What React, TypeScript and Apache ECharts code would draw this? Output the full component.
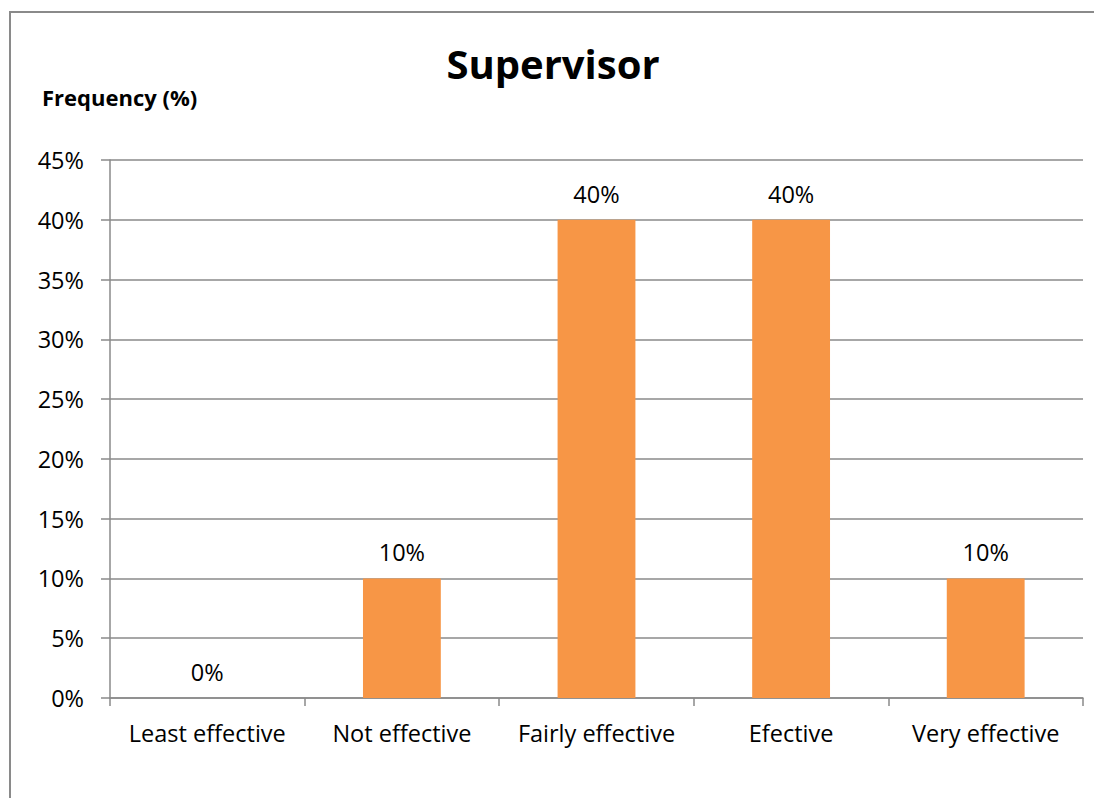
import React, { useEffect, useRef } from "react";
import * as echarts from "echarts";

const categories = ["Least effective", "Not effective", "Fairly effective", "Efective", "Very effective"];
const frequency = [0, 10, 40, 40, 10];
const yTicks = { min: 0, max: 45, interval: 5 };

const FONT = "'Open Sans', 'Noto Sans', sans-serif";
const GRID_COLOR = "#8a8a8a";
const LABEL_SIZE = 23.5;

export default function App() {
  const ref = useRef<HTMLDivElement>(null);

  useEffect(() => {
    document.body.style.margin = "0";
    if (!ref.current) return;
    const chart = echarts.init(ref.current, null, { renderer: "svg" });
    chart.setOption({
      animation: false,
      backgroundColor: "#ffffff",
      grid: { left: 110, top: 160, right: 11, bottom: 100, containLabel: false },
      graphic: [
        {
          type: "rect",
          shape: { x: 10, y: 12, width: 1200, height: 900 },
          style: { fill: "none", stroke: "#8a8a8a", lineWidth: 2 },
          silent: true,
        },
        {
          type: "text",
          x: 553,
          y: 63,
          style: {
            text: "Supervisor",
            font: `bold 40px ${FONT}`,
            fill: "#000000",
            align: "center",
            verticalAlign: "middle",
          },
        },
        {
          type: "text",
          x: 42,
          y: 97,
          style: {
            text: "Frequency (%)",
            font: `bold 22px ${FONT}`,
            fill: "#000000",
            align: "left",
            verticalAlign: "middle",
          },
        },
      ],
      xAxis: {
        type: "category",
        data: categories,
        boundaryGap: true,
        axisLine: { show: true, lineStyle: { color: GRID_COLOR, width: 1.5 } },
        axisTick: { show: true, interval: 0, length: 8, alignWithLabel: false, lineStyle: { color: GRID_COLOR, width: 1.5 } },
        axisLabel: { interval: 0, hideOverlap: false, color: "#000000", fontSize: LABEL_SIZE, fontFamily: FONT, margin: 23 },
        splitLine: { show: false },
      },
      yAxis: {
        type: "value",
        min: yTicks.min,
        max: yTicks.max,
        interval: yTicks.interval,
        axisLine: { show: true, lineStyle: { color: GRID_COLOR, width: 1.5 } },
        axisTick: { show: true, length: 9, lineStyle: { color: GRID_COLOR, width: 1.5 } },
        axisLabel: { color: "#000000", fontSize: LABEL_SIZE, fontFamily: FONT, margin: 26, formatter: "{value}%" },
        splitLine: { show: true, lineStyle: { color: GRID_COLOR, width: 1.5 } },
      },
      series: [
        {
          type: "bar",
          data: frequency,
          barWidth: "40%",
          itemStyle: { color: "#F79646" },
          label: {
            show: true,
            position: "top",
            distance: 14,
            formatter: "{c}%",
            color: "#000000",
            fontSize: LABEL_SIZE,
            fontFamily: FONT,
          },
        },
      ],
    });
    return () => chart.dispose();
  }, []);

  return <div ref={ref} style={{ width: 1094, height: 798 }} />;
}
